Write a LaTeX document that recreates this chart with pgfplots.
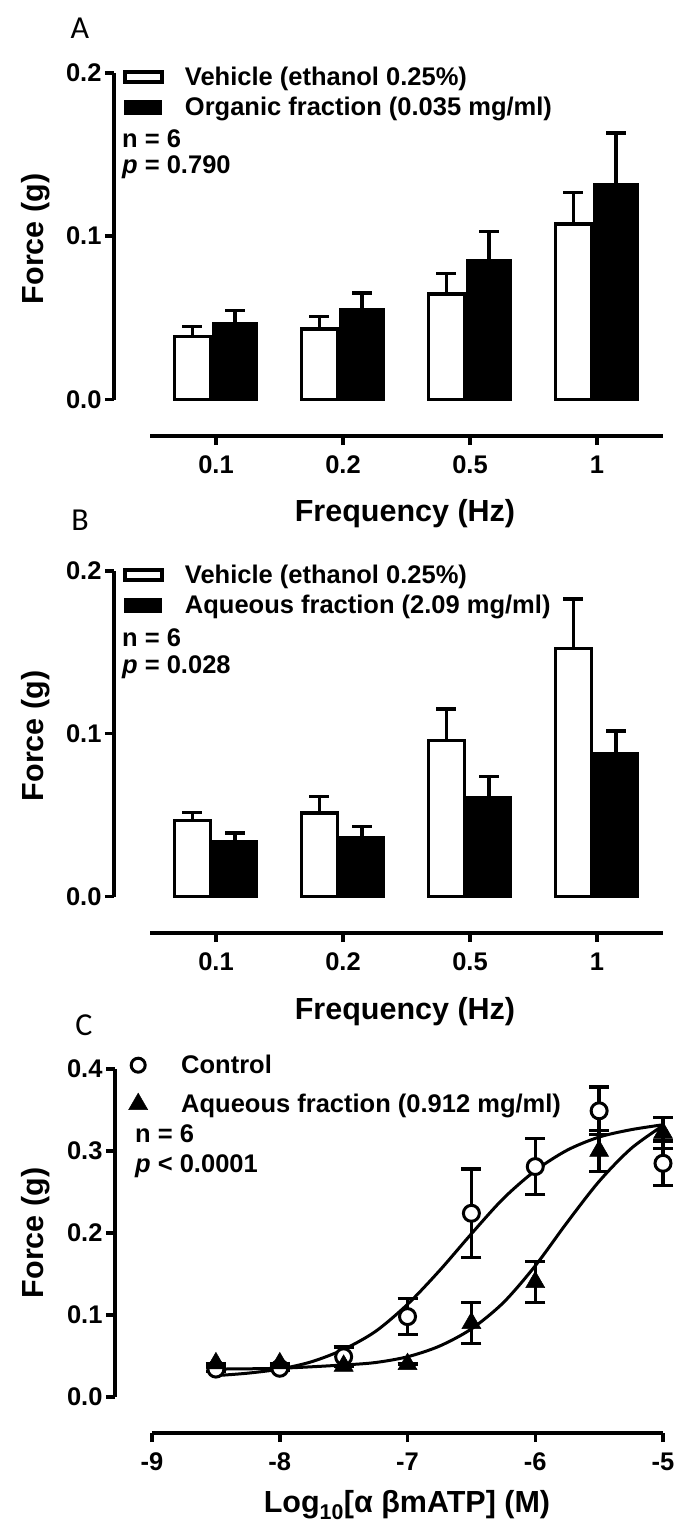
\documentclass[border=0pt]{standalone}
\usepackage{pgfplots}
\pgfplotsset{compat=1.18}
\usepackage{fontspec}
\setmainfont{Liberation Sans}
\newfontfamily\letterfont{Carlito}
\newcommand\tf{\bfseries\fontsize{25.5}{30}\selectfont}
\newcommand\lf{\bfseries\fontsize{30.5}{36}\selectfont}
\newcommand\pf{\letterfont\fontsize{32}{36}\selectfont}

\pgfplotsset{
  panel/.style={
    scale only axis, anchor=south west, clip=false,
    axis lines*=left,
    axis line style={black, line width=4pt},
    x axis line style={shorten <=36pt},
    y axis line style={shorten <=36pt},
    tick align=outside, major tick length=9pt,
    tick style={black, line width=3.5pt},
    tick label style={font=\tf},
    xticklabel style={yshift=-7pt},
    legend cell align=left,
    legend style={draw=none, fill=none, font=\tf, inner sep=0pt,
      at={(axis description cs:0,1)}, anchor=north west, xshift=9pt, yshift=8pt,
      row sep=6pt},
  },
  ebar/.style={
    error bars/y dir=#1, error bars/y explicit,
    error bars/error bar style={draw=black, line width=3.5pt},
    error bars/error mark options={rotate=90, draw=black, mark size=10pt, line width=3.5pt},
  },
  whitebar/.style={ybar, bar width=0.28, bar shift=-0.185, fill=white, draw=black, line width=3.5pt,
    legend image code/.code={\draw[black, line width=3.5pt, fill=white] (0pt,-5pt) rectangle (37pt,5pt); \path[draw=none, fill=none, opacity=0] (0pt,0pt) -- (58pt,0pt);}},
  blackbar/.style={ybar, bar width=0.33, bar shift=0.15, fill=black, draw=black, line width=3.5pt,
    legend image code/.code={\draw[black, line width=1pt, fill=black] (0pt,-7pt) rectangle (37pt,7pt); \path[draw=none, fill=none, opacity=0] (0pt,0pt) -- (58pt,0pt);}},
  errplot/.style={draw=none, mark=none, forget plot, ebar=plus},
}

\begin{document}
\begin{tikzpicture}
\useasboundingbox (0pt,0pt) rectangle (700pt,-1533pt);

% ---------------- Panel A ----------------
\begin{axis}[panel, at={(114pt,-436pt)}, width=549pt, height=363pt,
  xmin=-0.803, xmax=3.52, ymin=-0.0225, ymax=0.2,
  xtick={0,1,2,3}, xticklabels={0.1,0.2,0.5,1},
  ytick={0,0.1,0.2}, yticklabels={0.0,0.1,0.2}]
\addplot[whitebar] table[x=x, y=y] {
x y
0 0.0385
1 0.0432
2 0.0646
3 0.1073
};
\addlegendentry{Vehicle (ethanol 0.25\%)}
\addplot[blackbar] table[x=x, y=y] {
x y
0 0.0462
1 0.0548
2 0.0849
3 0.1314
};
\addlegendentry{Organic fraction (0.035 mg/ml)}
\addplot[errplot] table[x=x, y=y, y error=e] {
x y e
-0.185 0.0385 0.0061
0.815 0.0432 0.0075
1.815 0.0646 0.0126
2.815 0.1073 0.0194
};
\addplot[errplot] table[x=x, y=y, y error=e] {
x y e
0.15 0.0462 0.0082
1.15 0.0548 0.0104
2.15 0.0849 0.0180
3.15 0.1314 0.0319
};
\end{axis}
\node[font=\pf] at (80pt,-28pt) {A};
\node[rotate=90, font=\lf] at (36pt,-239pt) {Force (g)};
\node[font=\lf] at (405pt,-514pt) {Frequency (Hz)};
\node[anchor=base west, inner sep=0pt, font=\tf] at (122pt,-148pt) {n = 6};
\node[anchor=base west, inner sep=0pt, font=\tf] at (122pt,-174pt) {\textit{p} = 0.790};

% ---------------- Panel B ----------------
\begin{axis}[panel, at={(114pt,-933pt)}, width=549pt, height=362pt,
  xmin=-0.803, xmax=3.52, ymin=-0.0225, ymax=0.2,
  xtick={0,1,2,3}, xticklabels={0.1,0.2,0.5,1},
  ytick={0,0.1,0.2}, yticklabels={0.0,0.1,0.2}]
\addplot[whitebar] table[x=x, y=y] {
x y
0 0.0465
1 0.0512
2 0.0958
3 0.1525
};
\addlegendentry{Vehicle (ethanol 0.25\%)}
\addplot[blackbar] table[x=x, y=y] {
x y
0 0.0338
1 0.0362
2 0.0604
3 0.0876
};
\addlegendentry{Aqueous fraction (2.09 mg/ml)}
\addplot[errplot] table[x=x, y=y, y error=e] {
x y e
-0.185 0.0465 0.0051
0.815 0.0512 0.0102
1.815 0.0958 0.0194
2.815 0.1525 0.0303
};
\addplot[errplot] table[x=x, y=y, y error=e] {
x y e
0.15 0.0338 0.0051
1.15 0.0362 0.0068
2.15 0.0604 0.0133
3.15 0.0876 0.0141
};
\end{axis}
\node[font=\pf] at (80pt,-520pt) {B};
\node[rotate=90, font=\lf] at (36pt,-736pt) {Force (g)};
\node[font=\lf] at (405pt,-1012pt) {Frequency (Hz)};
\node[anchor=base west, inner sep=0pt, font=\tf] at (122pt,-646pt) {n = 6};
\node[anchor=base west, inner sep=0pt, font=\tf] at (122pt,-673pt) {\textit{p} = 0.028};

% ---------------- Panel C ----------------
\begin{axis}[panel, at={(115pt,-1433pt)}, width=548pt, height=364pt,
  xmin=-9.29, xmax=-5, ymin=-0.044, ymax=0.4,
  x axis line style={shorten <=37pt},
  legend style={xshift=3pt, yshift=8pt, row sep=15pt},
  xtick={-9,-8,-7,-6,-5}, xticklabels={-9,-8,-7,-6,-5},
  ytick={0,0.1,0.2,0.3,0.4}, yticklabels={0.0,0.1,0.2,0.3,0.4}]
\addplot[smooth, black, line width=3pt, forget plot] coordinates {
(-8.5,0.026) (-8.25,0.029) (-8,0.034) (-7.75,0.043) (-7.5,0.058) (-7.25,0.080)
(-7,0.113) (-6.75,0.154) (-6.5,0.199) (-6.25,0.242) (-6,0.276) (-5.75,0.301)
(-5.5,0.317) (-5.25,0.326) (-5,0.332)};
\addplot[smooth, black, line width=3pt, forget plot] coordinates {
(-8.5,0.034) (-8,0.035) (-7.5,0.039) (-7.25,0.042) (-7,0.049) (-6.75,0.062)
(-6.5,0.083) (-6.25,0.115) (-6,0.160) (-5.75,0.213) (-5.5,0.263) (-5.25,0.303)
(-5,0.331)};
\addplot[only marks, mark=*, mark size=8pt,
  mark options={fill=white, draw=black, line width=3pt}, ebar=both,
  legend image code/.code={\draw[mark=*, mark size=7pt, mark options={fill=white, draw=black, line width=3pt}] plot coordinates {(11pt,0pt)}; \path[draw=none, fill=none, opacity=0] (0pt,0pt) -- (52pt,0pt);}]
  table[x=x, y=y, y error=e] {
x y e
-8.5 0.034 0.003
-8 0.035 0.003
-7.5 0.049 0.012
-7 0.098 0.022
-6.5 0.224 0.054
-6 0.281 0.034
-5.5 0.349 0.029
-5 0.285 0.027
};
\addlegendentry{Control}
\addplot[only marks, mark=triangle*, mark size=11pt,
  mark options={fill=black, draw=black, line width=0.5pt}, ebar=both,
  legend image code/.code={\draw[mark=triangle*, mark size=11pt, mark options={fill=black, draw=black, line width=0.5pt}] plot coordinates {(11pt,0pt)}; \path[draw=none, fill=none, opacity=0] (0pt,0pt) -- (52pt,0pt);}]
  table[x=x, y=y, y error=e] {
x y e
-8.5 0.041 0
-8 0.041 0
-7.5 0.038 0
-7 0.040 0
-6.5 0.090 0.025
-6 0.140 0.025
-5.5 0.300 0.025
-5 0.322 0.019
};
\addlegendentry{Aqueous fraction (0.912 mg/ml)}
\end{axis}
\node[font=\pf] at (84pt,-1025pt) {C};
\node[rotate=90, font=\lf] at (36pt,-1233pt) {Force (g)};
\node[font=\lf] at (407pt,-1505pt) {Log\textsubscript{10}[α βmATP] (M)};
\node[anchor=base west, inner sep=0pt, font=\tf] at (135pt,-1142pt) {n = 6};
\node[anchor=base west, inner sep=0pt, font=\tf] at (135pt,-1172pt) {\textit{p} < 0.0001};
\end{tikzpicture}
\end{document}
